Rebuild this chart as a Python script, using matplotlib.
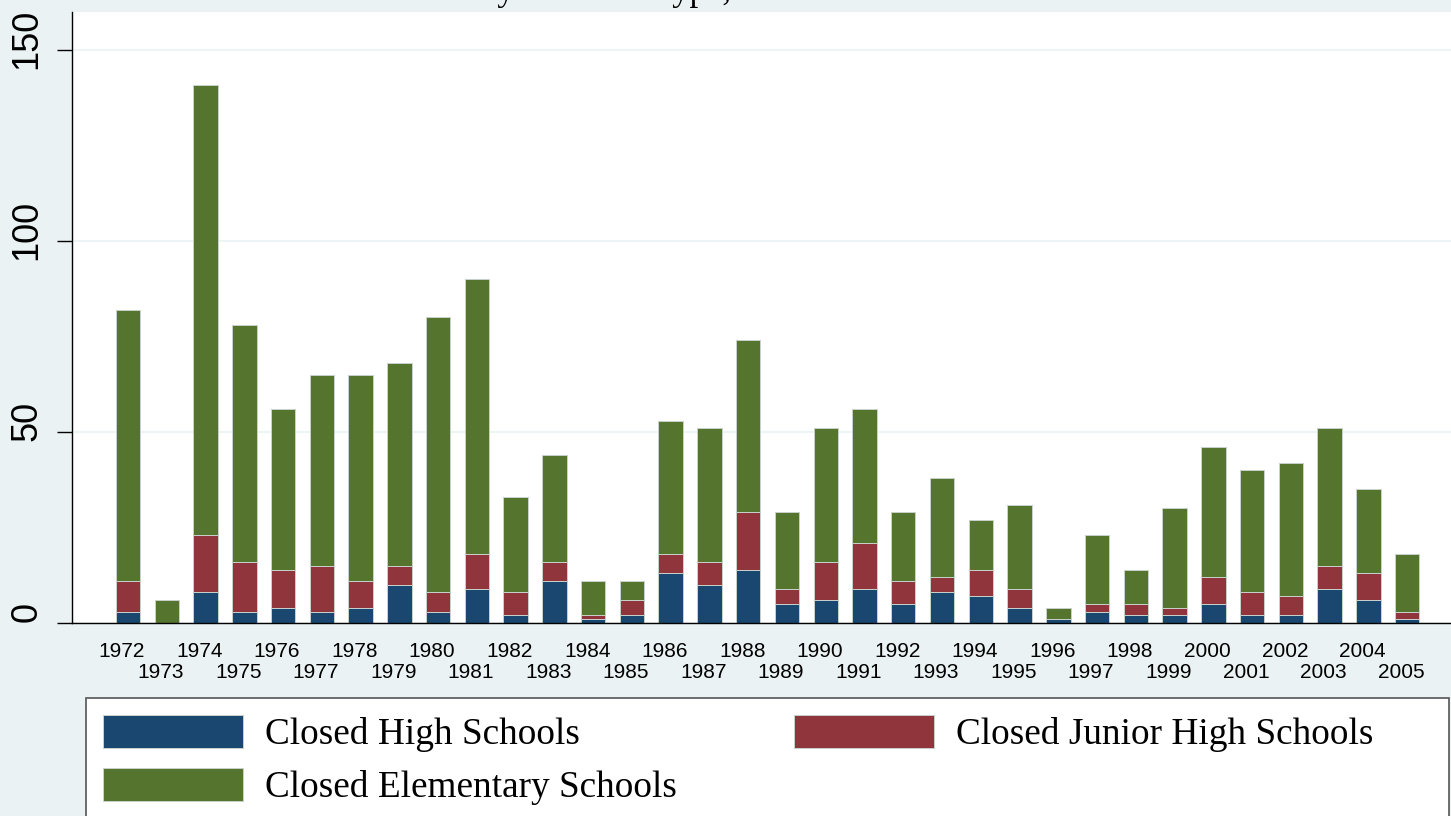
import matplotlib.pyplot as plt
from matplotlib.patches import Patch, Rectangle
import matplotlib.transforms as mtransforms
import numpy as np

# closed schools per year
years = list(range(1972, 2006))
high = [3, 0, 8, 3, 4, 3, 4, 10, 3, 9, 2, 11, 1, 2, 13, 10, 14, 5, 6, 9, 5, 8, 7, 4, 1, 3, 2, 2, 5, 2, 2, 9, 6, 1]
junior = [8, 0, 15, 13, 10, 12, 7, 5, 5, 9, 6, 5, 1, 4, 5, 6, 15, 4, 10, 12, 6, 4, 7, 5, 0, 2, 3, 2, 7, 6, 5, 6, 7, 2]
elementary = [71, 6, 118, 62, 42, 50, 54, 53, 72, 72, 25, 28, 9, 5, 35, 35, 45, 20, 35, 35, 18, 26, 13, 22, 3, 18, 9, 26, 34, 32, 35, 36, 22, 15]
series_names = ["Closed High Schools", "Closed Junior High Schools", "Closed Elementary Schools"]
y_ticks = [0, 50, 100, 150]

navy = "#1a476f"
maroon = "#90353b"
green = "#55752f"
bg = "#eaf2f3"

W, H = 1451, 816
fig = plt.figure(figsize=(W / 100, H / 100), dpi=100, facecolor=bg)
ax = fig.add_axes([72 / W, 1 - 623 / H, 1 - 72 / W, (623 - 12) / H])
ax.set_facecolor("white")

high = np.array(high)
junior = np.array(junior)
elementary = np.array(elementary)
edge = dict(edgecolor="#c9d1cc", linewidth=0.7, width=0.63)
ax.bar(years, high, color=navy, **edge)
ax.bar(years, junior, bottom=high, color=maroon, **edge)
ax.bar(years, elementary, bottom=high + junior, color=green, **edge)

ax.set_xlim(1970.555, 2006.13)
ax.set_ylim(0, 160)

# y axis
ax.set_yticks(y_ticks)
ax.set_yticklabels([str(t) for t in y_ticks], rotation=90, va="center",
                   fontsize=26, family="Liberation Sans")
ax.tick_params(axis="y", length=10.8, width=1, pad=9, color="black")
ax.yaxis.grid(True, color=bg, linewidth=1.2)
ax.set_axisbelow(True)
shift_up = mtransforms.ScaledTranslation(0, 11 / 100, fig.dpi_scale_trans)
for lab in ax.get_yticklabels():
    lab.set_transform(lab.get_transform() + shift_up)

# x axis: even years on the first row, odd years on the second
ax.set_xticks(years[::2])
ax.set_xticklabels([str(y) for y in years[::2]], fontsize=15, family="Liberation Sans")
ax.set_xticks(years[1::2], minor=True)
ax.set_xticklabels([str(y) for y in years[1::2]], minor=True, fontsize=15, family="Liberation Sans")
ax.tick_params(axis="x", which="major", length=0, pad=13.5)
ax.tick_params(axis="x", which="minor", length=0, pad=28.5)
shift_left = mtransforms.ScaledTranslation(-6 / 100, 0, fig.dpi_scale_trans)
for lab in ax.get_xticklabels(which="both"):
    lab.set_transform(lab.get_transform() + shift_left)

for s in ["top", "right"]:
    ax.spines[s].set_visible(False)
for s in ["left", "bottom"]:
    ax.spines[s].set_color("black")
    ax.spines[s].set_linewidth(1)

# title, mostly cut off at the top edge as in the original
fig.text(255 / W, 1 - 0.5 / H, "Closed Schools by Year and Type, 1972-2005",
         ha="left", va="baseline", fontsize=25, family="Liberation Serif")

# legend box
fig.patches.append(Rectangle((86 / W, -0.01), (1449 - 86) / W, 1 - 698 / H + 0.01,
                             transform=fig.transFigure, facecolor="white",
                             edgecolor="#555555", linewidth=1.2, zorder=1))
handles = [Patch(facecolor=navy, edgecolor="#c9d1cc", linewidth=0.7),
           Patch(facecolor=green, edgecolor="#c9d1cc", linewidth=0.7),
           Patch(facecolor=maroon, edgecolor="#c9d1cc", linewidth=0.7)]
labels = [series_names[0], series_names[2], series_names[1]]
fig.legend(handles, labels, loc="upper left", bbox_to_anchor=(86 / W, 1 - 698 / H),
           bbox_transform=fig.transFigure, ncol=2, frameon=False,
           prop={"family": "Liberation Serif", "size": 26.8},
           handlelength=3.76, handleheight=1.0, handletextpad=0.59,
           borderpad=0.45, borderaxespad=0, labelspacing=0.42, columnspacing=3.15)

fig.savefig("out.png", dpi=100, facecolor=fig.get_facecolor())
